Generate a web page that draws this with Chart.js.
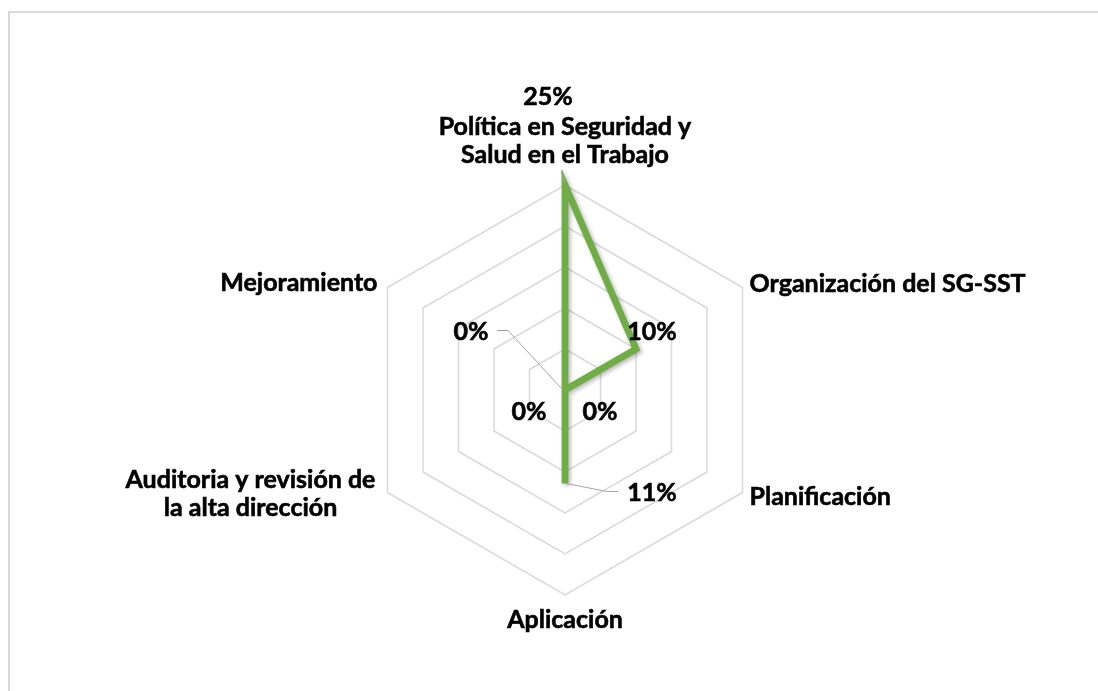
<!DOCTYPE html>
<html>
<head>
<meta charset="utf-8">
<script src="https://cdn.jsdelivr.net/npm/chart.js@4.4.0/dist/chart.umd.min.js"></script>
<style>
  html, body { margin: 0; padding: 0; background: #fff; }
  #wrap { width: 1098px; height: 691px; }
</style>
</head>
<body>
<div id="wrap"><canvas id="radar" width="1098" height="691"></canvas></div>
<script>
// categorias (multi-linea donde hace falta)
var categorias = [
  ["Política en Seguridad y", "Salud en el Trabajo"],
  "Organización del SG-SST",
  "Planificación",
  "Aplicación",
  ["Auditoria y revisión de", "la alta dirección"],
  "Mejoramiento"
];
var avance = [25, 10, 0, 11.4, 0, 0];
var escalaTicks = [0, 5, 10, 15, 20, 25];

var FONT = "'Lato', 'Open Sans', sans-serif";

// donde va cada etiqueta de categoria respecto al vertice exterior
var posCategoria = [
  { align: "center", dx: 0, dy: -50.5 },
  { align: "left", dx: 7, dy: 4 },
  { align: "left", dx: 7, dy: 12 },
  { align: "center", dx: 0, dy: 33 },
  { align: "block-right", dx: -12, dy: -5 },
  { align: "right", dx: -10, dy: 3 }
];
// etiquetas de valor respecto al punto, con lineas guia opcionales
var posValor = [
  { dx: -17, dy: -80.5, guia: [[0, -2], [-4, -14]] },
  { dx: 16, dy: -9.5 },
  { dx: 35, dy: 29.5 },
  { dx: 87, dy: 18, guia: [[1, 0], [42, 8], [53, 8]] },
  { dx: -36, dy: 29.5 },
  { dx: -94, dy: -50.5, guia: [[-4, -2], [-57, -59.5], [-68, -59.5]] }
];

var marco = {
  id: "marco",
  beforeDraw: function (chart) {
    var ctx = chart.ctx;
    ctx.save();
    ctx.fillStyle = "#fff";
    ctx.fillRect(0, 0, chart.width, chart.height);
    ctx.strokeStyle = "#d9d9d9";
    ctx.lineWidth = 2;
    ctx.strokeRect(9, 12, 1300, 900);
    ctx.restore();
  }
};

var sombra = {
  id: "sombra",
  beforeDatasetsDraw: function (chart) {
    var ctx = chart.ctx;
    ctx.save();
    ctx.shadowColor = "rgba(0,0,0,0.28)";
    ctx.shadowBlur = 4;
    ctx.shadowOffsetX = 2;
    ctx.shadowOffsetY = 2;
  },
  afterDatasetsDraw: function (chart) {
    chart.ctx.restore();
  }
};

// texto en negrita algo mas grueso (parecido a Calibri Bold)
function texto(ctx, t, x, y) {
  ctx.fillText(t, x, y);
  ctx.strokeText(t, x, y);
}

var etiquetas = {
  id: "etiquetas",
  afterDraw: function (chart) {
    var ctx = chart.ctx;
    var r = chart.scales.r;
    var maxV = escalaTicks[escalaTicks.length - 1];
    ctx.save();
    ctx.fillStyle = "#000";
    ctx.textBaseline = "alphabetic";
    ctx.font = "bold 25px " + FONT;

    // categorias
    chart.data.labels.forEach(function (lab, i) {
      var v = r.getPointPositionForValue(i, maxV);
      var p = posCategoria[i];
      var lineas = Array.isArray(lab) ? lab : [lab];
      var x = v.x + p.dx;
      if (p.align === "block-right") {
        var ancho = Math.max.apply(null, lineas.map(function (t) { return ctx.measureText(t).width; }));
        x = x - ancho / 2;
        ctx.textAlign = "center";
      } else {
        ctx.textAlign = p.align;
      }
      ctx.strokeStyle = "#000";
      ctx.lineWidth = 0.6;
      lineas.forEach(function (t, k) {
        texto(ctx, t, x, v.y + p.dy + k * 28.5);
      });
    });

    // valores
    chart.data.datasets[0].data.forEach(function (val, i) {
      var pt = r.getPointPositionForValue(i, val);
      var p = posValor[i];
      if (p.guia) {
        ctx.strokeStyle = "#a6a6a6";
        ctx.lineWidth = 1;
        ctx.beginPath();
        p.guia.forEach(function (g, k) {
          if (k === 0) ctx.moveTo(pt.x + g[0], pt.y + g[1]);
          else ctx.lineTo(pt.x + g[0], pt.y + g[1]);
        });
        ctx.stroke();
      }
      ctx.strokeStyle = "#000";
      ctx.lineWidth = 0.6;
      ctx.textAlign = "center";
      texto(ctx, Math.round(val) + "%", pt.x + p.dx, pt.y + p.dy);
    });
    ctx.restore();
  }
};

var ctx = document.getElementById("radar").getContext("2d");
var radar = new Chart(ctx, {
  type: "radar",
  data: {
    labels: categorias,
    datasets: [
      {
        label: "Avance",
        data: avance,
        borderColor: "#70ad47",
        backgroundColor: "rgba(0,0,0,0)",
        borderWidth: 6.8,
        borderJoinStyle: "miter",
        fill: false,
        pointRadius: 0,
        pointHoverRadius: 0,
        tension: 0
      }
    ]
  },
  options: {
    responsive: false,
    animation: false,
    layout: { padding: { left: 100, right: 68, top: 185, bottom: 95 } },
    plugins: {
      legend: { display: false },
      tooltip: { enabled: false }
    },
    scales: {
      r: {
        min: escalaTicks[0],
        max: escalaTicks[escalaTicks.length - 1],
        ticks: { display: false, stepSize: escalaTicks[1] - escalaTicks[0] },
        grid: { color: "#d9d9d9", lineWidth: 1.5 },
        angleLines: { display: false },
        pointLabels: { display: false }
      }
    }
  },
  plugins: [marco, sombra, etiquetas]
});
</script>
</body>
</html>
